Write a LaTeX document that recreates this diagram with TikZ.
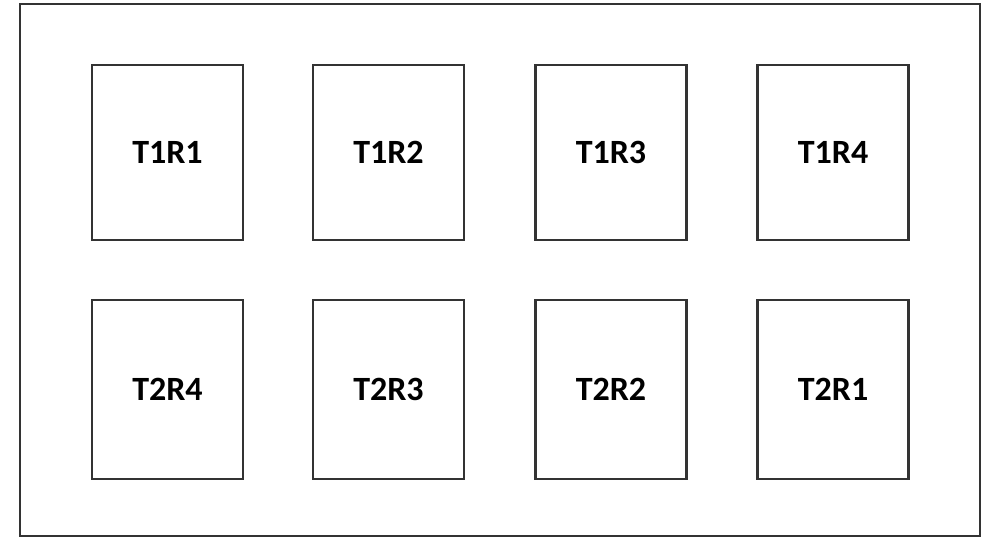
\documentclass[tikz,border=0pt]{standalone}
\usepackage{fontspec}
\setmainfont{Carlito}
\begin{document}
\begin{tikzpicture}[x=1pt,y=-1pt,
  room/.style={draw=black!80,line width=2.2pt,fill=white,minimum width=151pt,minimum height=175pt,inner sep=0pt,font=\fontsize{34}{36}\selectfont\bfseries},
  outer/.style={draw=black!80,line width=2.2pt}]
\useasboundingbox (0,0) rectangle (992,537);
\node[outer,minimum width=960pt,minimum height=532pt,inner sep=0pt] (frame) at (500,270) {};
\node[room] (a1) at (167.5,152.5) {T1R1};
\node[room] (a2) at (388.5,152.5) {T1R2};
\node[room] (a3) at (611,152.5) {T1R3};
\node[room] (a4) at (833,152.5) {T1R4};
\node[room,minimum height=179pt] (b1) at (167.5,389.5) {T2R4};
\node[room,minimum height=179pt] (b2) at (388.5,389.5) {T2R3};
\node[room,minimum height=179pt] (b3) at (611,389.5) {T2R2};
\node[room,minimum height=179pt] (b4) at (833,389.5) {T2R1};
\end{tikzpicture}
\end{document}
